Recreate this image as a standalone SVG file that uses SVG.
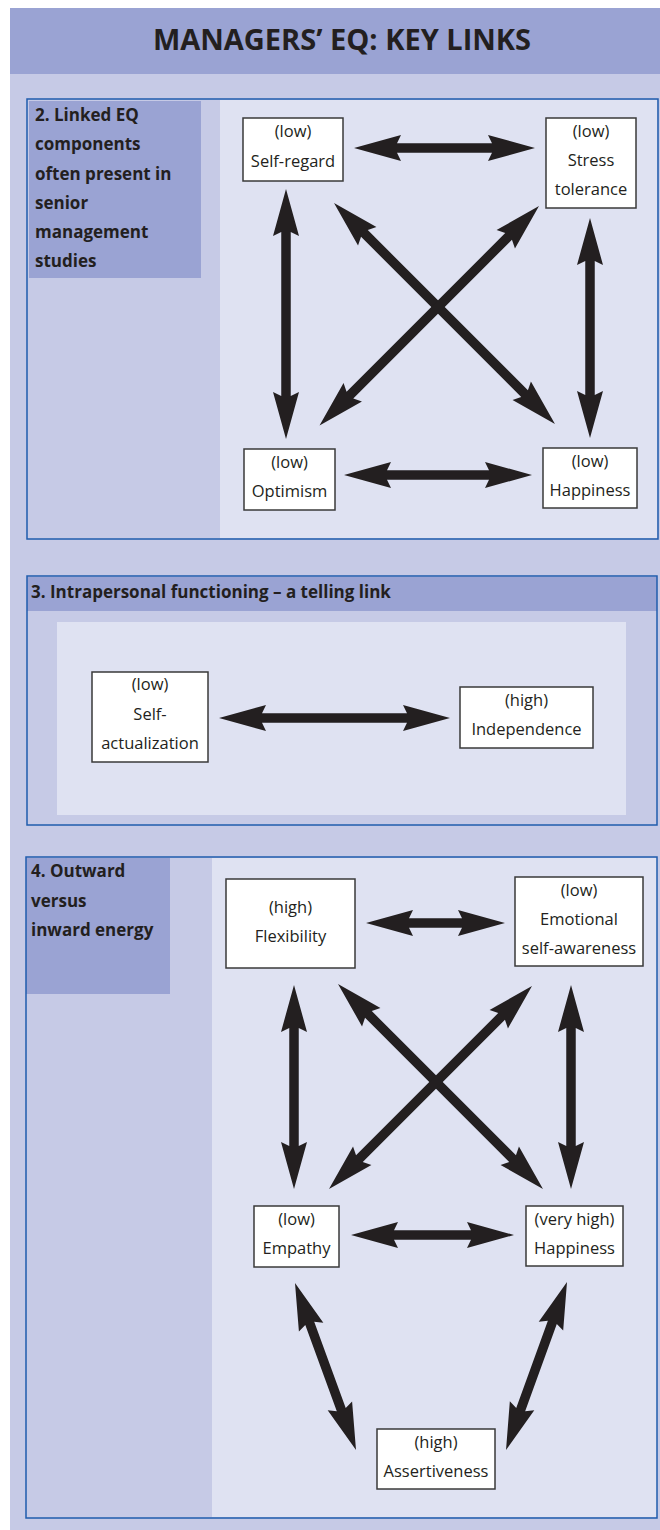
<svg xmlns="http://www.w3.org/2000/svg" width="660" height="1530" viewBox="0 0 660 1530">
<style>
.dark{fill:#9AA3D3}
.body{fill:#C6CAE6}
.light{fill:#DFE2F2}
.border{fill:none;stroke:#1F5CAD;stroke-width:1.5}
.box{fill:#FFFFFF;stroke:#3A3A3A;stroke-width:1.5}
.t{font-family:"Open Sans","Liberation Sans",sans-serif;font-size:16.5px;fill:#231F20;text-anchor:middle}
.h{font-family:"Open Sans","Liberation Sans",sans-serif;font-size:17px;font-weight:bold;fill:#231F20}
.title{font-family:"Open Sans","Liberation Sans",sans-serif;font-size:29px;font-weight:bold;fill:#231F20;text-anchor:middle}
.arr{fill:#231F20}
</style>
<rect x="0" y="0" width="660" height="1530" fill="#FFFFFF"/>
<rect x="10" y="74" width="650" height="1456" class="body"/>
<g id="header">
<rect x="10" y="8" width="650" height="66" class="dark"/>
<text x="342" y="50" class="title">MANAGERS’ EQ: KEY LINKS</text>
</g>
<g id="panel2">
<rect x="27" y="99" width="631" height="440" class="body"/>
<rect x="220" y="100" width="437" height="438" class="light"/>
<rect x="29" y="101" width="172" height="177" class="dark"/>
<rect x="27" y="99" width="631" height="440" class="border"/>
<text class="h" x="35"><tspan x="35" y="121">2. Linked EQ</tspan><tspan x="35" y="150">components</tspan><tspan x="35" y="180">often present in</tspan><tspan x="35" y="209">senior</tspan><tspan x="35" y="238">management</tspan><tspan x="35" y="267">studies</tspan></text>
</g>
<g id="panel3">
<rect x="27" y="576" width="630" height="249" class="body"/>
<rect x="27" y="577" width="630" height="34" class="dark"/>
<rect x="57" y="622" width="569" height="193" class="light"/>
<rect x="27" y="576" width="630" height="249" class="border"/>
<text class="h" x="31" y="598">3. Intrapersonal functioning – a telling link</text>
</g>
<g id="panel4">
<rect x="26" y="857" width="631" height="661" class="body"/>
<rect x="212" y="858" width="445" height="659" class="light"/>
<rect x="26" y="858" width="144" height="136" class="dark"/>
<rect x="26" y="857" width="631" height="661" class="border"/>
<text class="h" x="31"><tspan x="31" y="877">4. Outward</tspan><tspan x="31" y="907">versus</tspan><tspan x="31" y="936">inward energy</tspan></text>
</g>
<g id="connectors">
<path class="arr" transform="translate(354,148)" d="M0,0 L47,-13 L43,-4.75 L138,-4.75 L134,-13 L181,0 L134,13 L138,4.75 L43,4.75 L47,13 Z"/>
<path class="arr" transform="translate(286,189) rotate(90)" d="M0,0 L47,-13 L43,-4.75 L207,-4.75 L203,-13 L250,0 L203,13 L207,4.75 L43,4.75 L47,13 Z"/>
<path class="arr" transform="translate(590,218) rotate(90)" d="M0,0 L47,-13 L43,-4.75 L177,-4.75 L173,-13 L220,0 L173,13 L177,4.75 L43,4.75 L47,13 Z"/>
<path class="arr" transform="translate(344,475)" d="M0,0 L47,-13 L43,-4.75 L145,-4.75 L141,-13 L188,0 L141,13 L145,4.75 L43,4.75 L47,13 Z"/>
<path class="arr" transform="translate(334,203) rotate(45)" d="M0,0 L47,-13 L43,-4.75 L269.5,-4.75 L265.5,-13 L312.5,0 L265.5,13 L269.5,4.75 L43,4.75 L47,13 Z"/>
<path class="arr" transform="translate(539,206) rotate(135)" d="M0,0 L47,-13 L43,-4.75 L267.4,-4.75 L263.4,-13 L310.4,0 L263.4,13 L267.4,4.75 L43,4.75 L47,13 Z"/>
<path class="arr" transform="translate(219,718)" d="M0,0 L47,-13 L43,-4.75 L188,-4.75 L184,-13 L231,0 L184,13 L188,4.75 L43,4.75 L47,13 Z"/>
<path class="arr" transform="translate(366,923)" d="M0,0 L47,-13 L43,-4.75 L96,-4.75 L92,-13 L139,0 L92,13 L96,4.75 L43,4.75 L47,13 Z"/>
<path class="arr" transform="translate(294,985) rotate(90)" d="M0,0 L47,-13 L43,-4.75 L161,-4.75 L157,-13 L204,0 L157,13 L161,4.75 L43,4.75 L47,13 Z"/>
<path class="arr" transform="translate(571,985) rotate(90)" d="M0,0 L47,-13 L43,-4.75 L161,-4.75 L157,-13 L204,0 L157,13 L161,4.75 L43,4.75 L47,13 Z"/>
<path class="arr" transform="translate(338,984) rotate(45)" d="M0,0 L47,-13 L43,-4.75 L246.9,-4.75 L242.9,-13 L289.9,0 L242.9,13 L246.9,4.75 L43,4.75 L47,13 Z"/>
<path class="arr" transform="translate(532,986) rotate(135)" d="M0,0 L47,-13 L43,-4.75 L244.1,-4.75 L240.1,-13 L287.1,0 L240.1,13 L244.1,4.75 L43,4.75 L47,13 Z"/>
<path class="arr" transform="translate(351,1235)" d="M0,0 L47,-13 L43,-4.75 L120,-4.75 L116,-13 L163,0 L116,13 L120,4.75 L43,4.75 L47,13 Z"/>
<path class="arr" transform="translate(295,1283) rotate(69.93)" d="M0,0 L47,-13 L43,-4.75 L134.8,-4.75 L130.8,-13 L177.8,0 L130.8,13 L134.8,4.75 L43,4.75 L47,13 Z"/>
<path class="arr" transform="translate(567,1282) rotate(109.95)" d="M0,0 L47,-13 L43,-4.75 L135.7,-4.75 L131.7,-13 L178.7,0 L131.7,13 L135.7,4.75 L43,4.75 L47,13 Z"/>
</g>
<g id="n-selfregard">
<rect x="243" y="118" width="100" height="63" class="box"/>
<text class="t" x="293" y="137">(low)</text>
<text class="t" x="293" y="167">Self-regard</text>
</g>
<g id="n-stress">
<rect x="546" y="118" width="90" height="90" class="box"/>
<text class="t" x="591" y="137">(low)</text>
<text class="t" x="591" y="166">Stress</text>
<text class="t" x="591" y="195">tolerance</text>
</g>
<g id="n-optimism">
<rect x="244" y="449" width="91" height="61" class="box"/>
<text class="t" x="289.5" y="468">(low)</text>
<text class="t" x="289.5" y="497">Optimism</text>
</g>
<g id="n-happiness-low">
<rect x="543" y="448" width="94" height="60" class="box"/>
<text class="t" x="590" y="467">(low)</text>
<text class="t" x="590" y="496">Happiness</text>
</g>
<g id="n-selfactualization">
<rect x="92" y="672" width="116" height="90" class="box"/>
<text class="t" x="150" y="690">(low)</text>
<text class="t" x="150" y="720">Self-</text>
<text class="t" x="150" y="749">actualization</text>
</g>
<g id="n-independence">
<rect x="460" y="687" width="133" height="61" class="box"/>
<text class="t" x="526.5" y="706">(high)</text>
<text class="t" x="526.5" y="735">Independence</text>
</g>
<g id="n-flexibility">
<rect x="226" y="879" width="129" height="89" class="box"/>
<text class="t" x="290.5" y="913">(high)</text>
<text class="t" x="290.5" y="942">Flexibility</text>
</g>
<g id="n-emotional">
<rect x="515" y="877" width="128" height="89" class="box"/>
<text class="t" x="579" y="896">(low)</text>
<text class="t" x="579" y="925">Emotional</text>
<text class="t" x="579" y="954">self-awareness</text>
</g>
<g id="n-empathy">
<rect x="254" y="1206" width="85" height="61" class="box"/>
<text class="t" x="296.5" y="1225">(low)</text>
<text class="t" x="296.5" y="1254">Empathy</text>
</g>
<g id="n-happiness-vhigh">
<rect x="526" y="1206" width="97" height="60" class="box"/>
<text class="t" x="574.5" y="1225">(very high)</text>
<text class="t" x="574.5" y="1254">Happiness</text>
</g>
<g id="n-assertiveness">
<rect x="377" y="1429" width="118" height="60" class="box"/>
<text class="t" x="436" y="1448">(high)</text>
<text class="t" x="436" y="1477">Assertiveness</text>
</g>
</svg>
